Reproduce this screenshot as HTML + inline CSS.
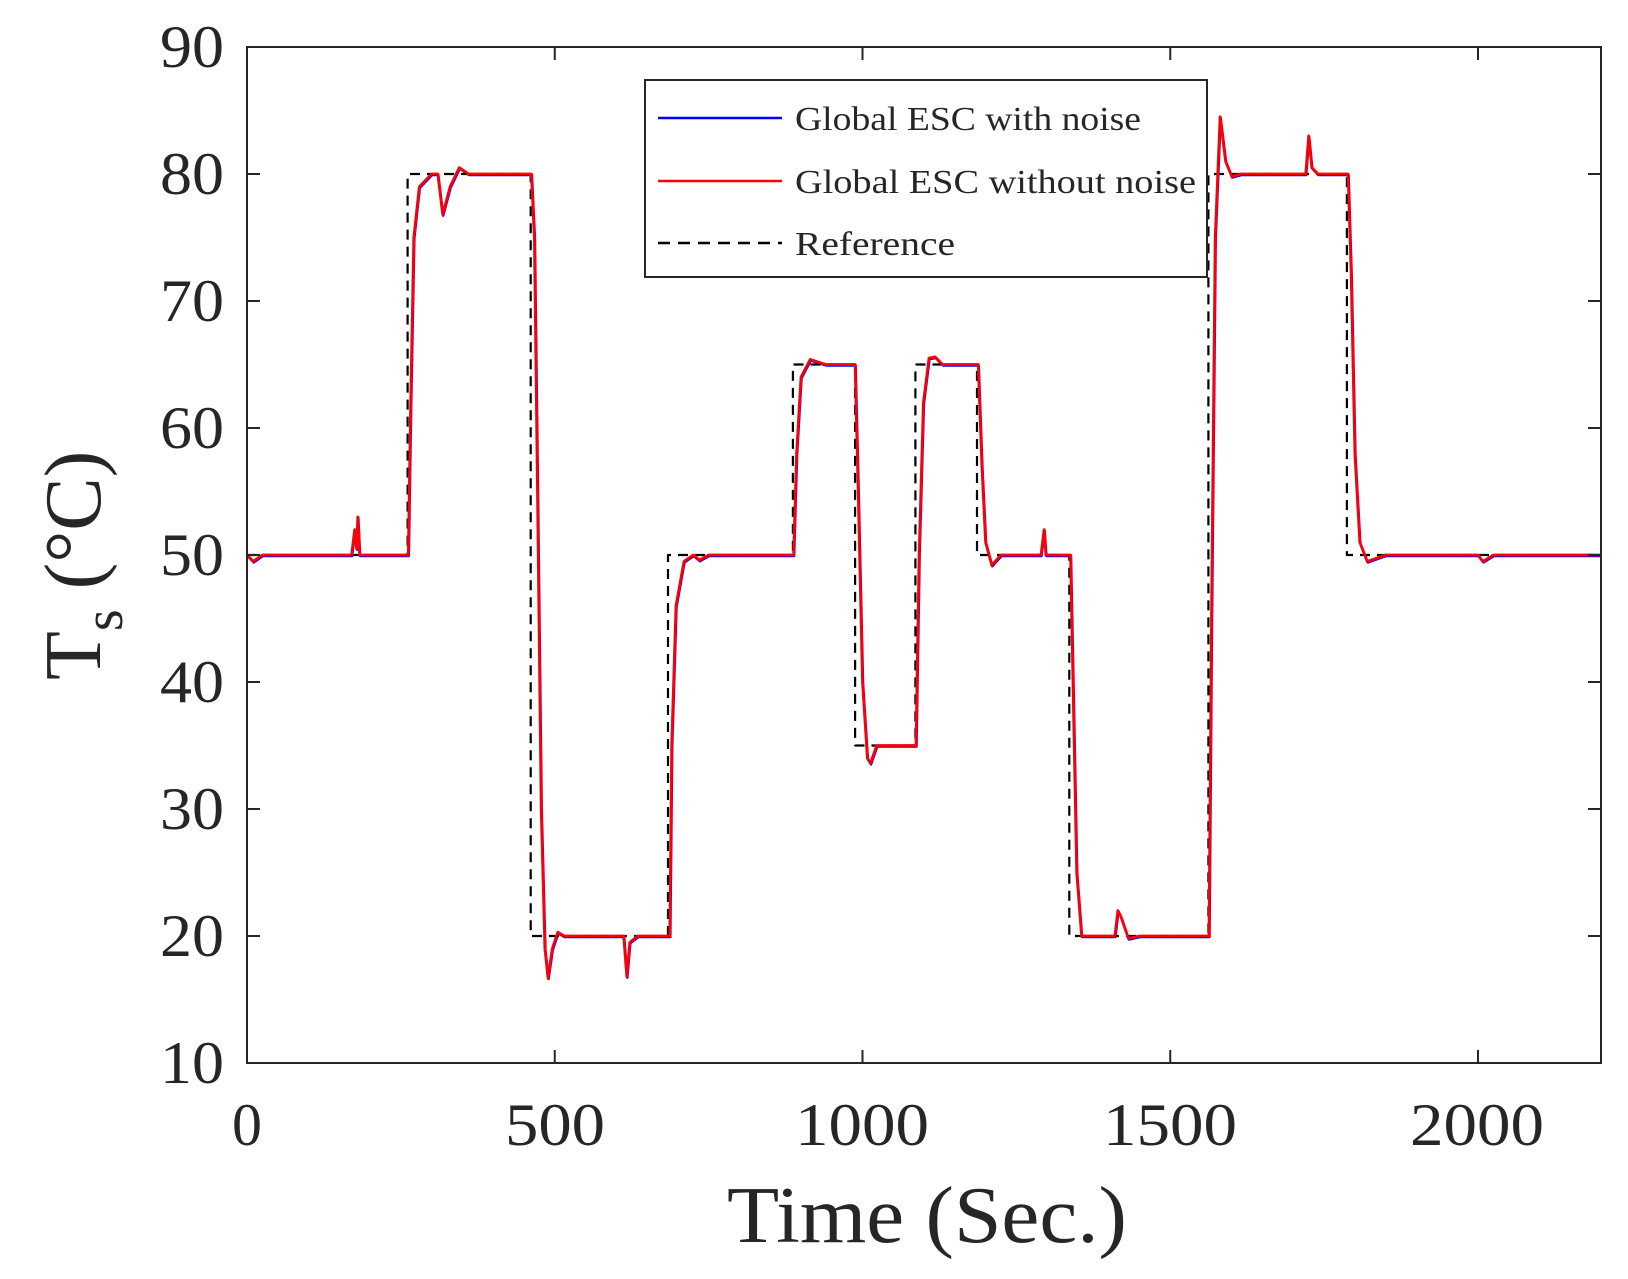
<!DOCTYPE html>
<html><head><meta charset="utf-8"><style>body{margin:0;background:#fff}svg{display:block}</style></head>
<body>
<svg id="s" width="1628" height="1279" xmlns="http://www.w3.org/2000/svg" font-family="Liberation Serif, serif" fill="#262626">
<rect width="1628" height="1279" fill="#fff"/>
<g id="plot"></g>
<rect x="247" y="47" width="1354" height="1016" fill="none" stroke="#262626" stroke-width="2"/>
<g id="ticks" stroke="#262626" stroke-width="2"></g>
<g font-size="60" text-anchor="end">
<text x="224" y="67" textLength="64" lengthAdjust="spacingAndGlyphs">90</text><text x="224" y="194" textLength="64" lengthAdjust="spacingAndGlyphs">80</text><text x="224" y="321" textLength="64" lengthAdjust="spacingAndGlyphs">70</text><text x="224" y="448" textLength="64" lengthAdjust="spacingAndGlyphs">60</text><text x="224" y="575" textLength="64" lengthAdjust="spacingAndGlyphs">50</text><text x="224" y="702" textLength="64" lengthAdjust="spacingAndGlyphs">40</text><text x="224" y="829" textLength="64" lengthAdjust="spacingAndGlyphs">30</text><text x="224" y="956" textLength="64" lengthAdjust="spacingAndGlyphs">20</text><text x="224" y="1083" textLength="64" lengthAdjust="spacingAndGlyphs">10</text>
</g>
<g font-size="60" text-anchor="middle">
<text x="247" y="1145">0</text><text x="555" y="1145" textLength="100" lengthAdjust="spacingAndGlyphs">500</text><text x="862" y="1145" textLength="134" lengthAdjust="spacingAndGlyphs">1000</text><text x="1170" y="1145" textLength="134" lengthAdjust="spacingAndGlyphs">1500</text><text x="1477" y="1145" textLength="134" lengthAdjust="spacingAndGlyphs">2000</text>
</g>
<text x="727" y="1242" font-size="80" textLength="400" lengthAdjust="spacingAndGlyphs">Time (Sec.)</text>
<text transform="translate(100,680) rotate(-90)" font-size="80">T<tspan font-size="56" dy="22">s</tspan><tspan dy="-22"> (°C)</tspan></text>
<rect x="645" y="80" width="562" height="197" fill="#fff" stroke="#262626" stroke-width="2"/>
<line x1="658" y1="118" x2="782" y2="118" stroke="#0000ff" stroke-width="2.5"/>
<line x1="658" y1="181" x2="782" y2="181" stroke="#ff0000" stroke-width="2.5"/>
<line x1="658" y1="243" x2="782" y2="243" stroke="#000" stroke-width="2.5" stroke-dasharray="12,8"/>
<g font-size="34">
<text x="795" y="130" textLength="346" lengthAdjust="spacingAndGlyphs">Global ESC with noise</text>
<text x="795" y="193" textLength="401" lengthAdjust="spacingAndGlyphs">Global ESC without noise</text>
<text x="795" y="255" textLength="160" lengthAdjust="spacingAndGlyphs">Reference</text>
</g>
</svg>
<script>
var X=t=>247+t*0.6155, Y=v=>47+(90-v)*12.7;
var ref=[[0,50],[261,50],[261,80],[461,80],[461,20],[684,20],[684,50],[887,50],[887,65],[988,65],[988,35],[1086,35],[1086,65],[1186,65],[1186,50],[1336,50],[1336,20],[1562,20],[1562,80],[1787,80],[1787,50],[2200,50]];
var red=[[0,50],[10,49.5],[25,50],[170,50],[175,52],[178,50.5],[180,53],[183,50],[262,50],[266,62],[271,75],[280,79],[300,80],[310,80],[318,76.8],[330,79],[345,80.5],[360,80],[462,80],[467,75],[472,55],[478,30],[484,19],[489,16.7],[496,19],[505,20.3],[515,20],[612,20],[617,16.8],[622,19.5],[635,20],[687,20],[690,35],[697,46],[710,49.5],[725,50],[735,49.6],[750,50],[888,50],[893,58],[900,64],[915,65.4],[940,65],[988,65],[993,55],[1000,40],[1008,34],[1013,33.6],[1023,35],[1087,35],[1092,50],[1099,62],[1108,65.5],[1118,65.6],[1130,65],[1188,65],[1194,57],[1200,51],[1210,49.2],[1225,50],[1290,50],[1295,52],[1298,50],[1338,50],[1342,40],[1348,25],[1356,20],[1380,20],[1410,20],[1415,22],[1420,21.5],[1432,19.8],[1450,20],[1563,20],[1567,45],[1573,75],[1581,84.5],[1590,81],[1600,79.8],[1615,80],[1720,80],[1725,83],[1730,80.5],[1740,80],[1789,80],[1794,72],[1800,58],[1808,51],[1820,49.5],[1850,50],[2000,50],[2008,49.5],[2025,50],[2200,50]];
function pts(a,dx,dy){return a.map(p=>(X(p[0])+(dx||0)).toFixed(1)+','+(Y(p[1])+(dy||0)).toFixed(1)).join(' ');}
var g=document.getElementById('plot'),ns='http://www.w3.org/2000/svg';
function pl(p,c,w,d){var e=document.createElementNS(ns,'polyline');e.setAttribute('points',p);e.setAttribute('fill','none');e.setAttribute('stroke',c);e.setAttribute('stroke-width',w);e.setAttribute('stroke-linejoin','round');if(d)e.setAttribute('stroke-dasharray',d);g.appendChild(e);}
pl(pts(red,0.5,1),'#0000ff',2.5);
pl(pts(ref),'#000',2.2,'10,7');
pl(pts(red),'#ff0000',2.8);
var tk=document.getElementById('ticks'),s='';
[0,500,1000,1500,2000].forEach(t=>{var x=X(t);s+='<line x1="'+x+'" y1="1063" x2="'+x+'" y2="1050"/><line x1="'+x+'" y1="47" x2="'+x+'" y2="60"/>';});
for(var v=10;v<=90;v+=10){var y=Y(v);s+='<line x1="247" y1="'+y+'" x2="260" y2="'+y+'"/><line x1="1601" y1="'+y+'" x2="1588" y2="'+y+'"/>';}
tk.innerHTML=s;
</script>
</body></html>
